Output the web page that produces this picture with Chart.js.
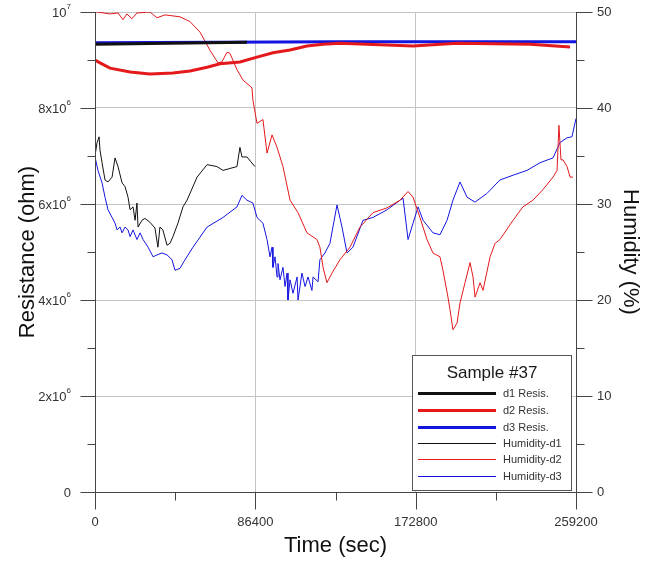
<!DOCTYPE html>
<html>
<head>
<meta charset="utf-8">
<script src="https://cdn.jsdelivr.net/npm/chart.js@4.4.1/dist/chart.umd.min.js"></script>
<style>
  html, body { margin: 0; padding: 0; background: #fff; }
  canvas { display: block; }
</style>
</head>
<body>
<canvas id="chart" width="652" height="561"></canvas>
<script>
// Time axis (seconds)
const timeMax = 259200;
const timeTicks = [0, 86400, 172800, 259200];
const resTicks = [0, 2e6, 4e6, 6e6, 8e6, 1e7];
const humTicks = [0, 10, 20, 30, 40, 50];

// Resistance (ohm), thick lines, left axis
const d1ResTime = [0, 40000, 81900];
const d1Res = [9.33e6, 9.35e6, 9.37e6];

const d2ResTime = [0, 2700, 8100, 18900, 29600, 42000, 51200, 60400, 67400, 78100, 87300, 95900, 105100, 114200, 122900, 132000, 171400, 195100, 234400, 256000];
const d2Res = [9.0e6, 8.94e6, 8.83e6, 8.75e6, 8.71e6, 8.73e6, 8.77e6, 8.85e6, 8.92e6, 8.96e6, 9.06e6, 9.15e6, 9.21e6, 9.29e6, 9.33e6, 9.35e6, 9.29e6, 9.35e6, 9.33e6, 9.27e6];

const d3ResTime = [0, 130000, 259200];
const d3Res = [9.36e6, 9.38e6, 9.38e6];

// Humidity (%), thin lines, right axis
const humD1Time = [0, 1100, 2200, 2700, 3800, 5400, 7000, 9200, 10800, 12400, 14600, 16200, 17800, 18900, 20500, 21600, 22600, 23200, 25300, 26900, 29600, 32300, 33900, 35000, 36600, 38800, 40400, 42000, 44700, 47400, 49600, 55000, 60400, 65700, 69000, 72700, 76500, 78100, 79200, 81900, 84000, 86200];
const humD1 = [35.0, 36.4, 37.0, 35.6, 34.3, 32.5, 32.3, 32.8, 34.8, 33.9, 32.2, 31.8, 30.7, 29.4, 29.7, 28.3, 30.1, 27.6, 28.3, 28.5, 28.1, 27.5, 25.5, 27.6, 27.3, 25.7, 25.9, 26.6, 28.0, 29.7, 30.4, 32.8, 34.1, 33.9, 33.5, 33.7, 33.9, 35.9, 34.9, 34.9, 34.4, 33.9];

const humD2Time = [0, 1100, 8100, 12400, 15100, 17200, 19900, 22600, 29600, 33400, 37700, 45800, 51200, 56600, 62000, 66300, 68400, 71100, 72700, 76500, 79800, 84600, 85100, 87300, 90500, 92700, 95400, 98100, 101300, 105100, 109400, 114200, 119600, 121200, 122900, 125000, 127700, 132000, 137400, 142800, 149800, 157400, 164400, 168700, 171400, 175100, 178900, 182100, 185900, 187500, 190200, 191300, 192900, 195100, 196700, 199400, 202100, 203700, 204800, 207500, 209100, 212900, 215600, 218200, 225300, 230600, 236000, 241400, 246800, 249000, 250000, 251100, 252200, 254400, 256000, 257600];
const humD2 = [50, 50, 49.8, 49.9, 49.2, 49.8, 49.3, 49.9, 50, 49.4, 49.7, 49.5, 49.0, 47.9, 46.0, 44.7, 44.8, 45.8, 45.7, 44.0, 42.9, 42.1, 40.8, 38.4, 38.8, 35.3, 37.2, 35.9, 33.9, 30.4, 29.1, 27.0, 26.3, 25.5, 23.4, 21.8, 22.8, 24.2, 25.5, 27.6, 29.1, 29.6, 30.4, 31.3, 30.7, 28.6, 26.3, 24.9, 24.5, 23.1, 20.3, 19.0, 16.9, 17.6, 19.7, 21.8, 23.9, 22.4, 20.3, 21.8, 21.0, 24.5, 25.9, 26.3, 28.3, 29.7, 30.4, 31.5, 32.8, 33.5, 38.2, 34.6, 34.6, 33.9, 32.8, 32.8];

const humD3Time = [0, 1600, 3800, 5400, 7000, 9200, 10800, 11900, 13500, 14600, 16200, 17800, 18900, 20500, 22600, 24300, 25900, 28600, 31300, 33400, 36100, 38800, 41500, 43100, 45800, 47900, 52800, 60400, 69000, 76500, 79200, 81900, 85100, 87300, 90500, 92700, 94300, 95400, 95900, 97000, 98100, 98600, 99700, 101300, 102400, 103500, 104000, 105100, 106700, 108900, 109400, 111500, 113200, 114800, 116900, 117500, 120200, 121200, 123900, 126600, 130400, 133100, 135800, 139000, 144400, 149800, 157400, 164400, 166000, 168700, 171400, 174100, 176800, 182100, 185900, 189700, 192900, 196700, 200500, 204800, 211200, 218200, 225300, 232800, 239800, 246800, 250600, 254400, 257000, 259200];
const humD3 = [34.9, 33.5, 32.2, 30.7, 29.4, 28.6, 28.0, 27.3, 27.6, 27.0, 27.6, 27.3, 26.6, 27.3, 26.3, 27.0, 26.3, 25.5, 24.5, 24.7, 24.9, 24.7, 24.2, 23.1, 23.3, 24.0, 25.5, 27.6, 28.6, 29.7, 30.9, 30.4, 30.1, 28.6, 28.0, 26.3, 24.5, 25.5, 23.4, 24.5, 22.4, 23.8, 22.1, 23.4, 21.4, 22.8, 20.0, 22.1, 20.7, 22.4, 20.0, 22.8, 21.4, 22.4, 21.0, 22.4, 21.9, 24.2, 24.9, 25.9, 29.9, 27.6, 24.9, 25.5, 28.3, 28.6, 29.4, 30.4, 30.6, 26.3, 28.0, 29.7, 28.3, 27.0, 26.8, 28.3, 30.4, 32.3, 30.7, 30.2, 31.1, 32.5, 33.0, 33.5, 34.3, 34.8, 36.4, 36.9, 37.0, 38.9];

const RED = '#e3191c';
const BLUE = '#1414e0';
const BLACK = '#111111';
const FONT = '"Liberation Sans", Arial, sans-serif';

function pts(t, v) {
  return t.map((x, i) => ({ x: x, y: v[i] }));
}

// split a resistance tick into base text and exponent
function sciParts(v) {
  if (v === 0) return ['0', ''];
  if (v === 1e7) return ['10', '7'];
  return [(v / 1e6) + 'x10', '6'];
}

// axis lines, tick marks and left labels with superscripts
const axesPlugin = {
  id: 'axesPlugin',
  afterDatasetsDraw(chart) {
    const ctx = chart.ctx;
    const a = chart.chartArea;
    const x = chart.scales.x, y = chart.scales.y, y1 = chart.scales.y1;
    ctx.save();
    ctx.strokeStyle = '#444';
    ctx.lineWidth = 1;
    ctx.beginPath();
    const L = Math.round(a.left) + 0.5, R = Math.round(a.right) + 0.5, B = Math.round(a.bottom) + 0.5;
    ctx.moveTo(L, a.top); ctx.lineTo(L, B);
    ctx.moveTo(R, a.top); ctx.lineTo(R, B);
    ctx.moveTo(L, B); ctx.lineTo(R, B);
    for (let v = 0; v <= 1e7; v += 1e6) {
      const py = Math.round(y.getPixelForValue(v)) + 0.5;
      const len = (v / 1e6) % 2 === 0 ? 15 : 8;
      ctx.moveTo(L - len, py); ctx.lineTo(L, py);
    }
    for (let v = 0; v <= 50; v += 5) {
      const py = Math.round(y1.getPixelForValue(v)) + 0.5;
      const len = v % 10 === 0 ? 16 : 8;
      ctx.moveTo(R, py); ctx.lineTo(R + len, py);
    }
    for (let t = 0; t <= timeMax; t += 43200) {
      const px = Math.round(x.getPixelForValue(t)) + 0.5;
      const len = t % 86400 === 0 ? 17 : 8;
      ctx.moveTo(px, B); ctx.lineTo(px, B + len);
    }
    ctx.stroke();

    // left tick labels
    ctx.fillStyle = '#333';
    ctx.textBaseline = 'middle';
    resTicks.forEach(v => {
      const py = y.getPixelForValue(v);
      const [base, exp] = sciParts(v);
      ctx.font = '8px ' + FONT;
      const ew = exp ? ctx.measureText(exp).width : 0;
      ctx.textAlign = 'left';
      if (exp) ctx.fillText(exp, 71 - ew, py - 5);
      ctx.font = '13px ' + FONT;
      ctx.textAlign = 'right';
      ctx.fillText(base, 71 - ew, py + 1);
    });
    ctx.restore();
  }
};

// boxed legend inside the plot
const boxLegend = {
  id: 'boxLegend',
  afterDraw(chart) {
    const ctx = chart.ctx;
    const bx = 412.5, by = 355.5, bw = 159, bh = 135;
    ctx.save();
    ctx.fillStyle = '#fff';
    ctx.fillRect(bx, by, bw, bh);
    ctx.strokeStyle = '#555';
    ctx.lineWidth = 1;
    ctx.strokeRect(bx, by, bw, bh);
    ctx.fillStyle = '#1a1a1a';
    ctx.font = '17px ' + FONT;
    ctx.textAlign = 'center';
    ctx.textBaseline = 'middle';
    ctx.fillText('Sample #37', bx + bw / 2, by + 18);
    const rows = [393, 410, 427, 443, 459, 476];
    ctx.font = '11px ' + FONT;
    ctx.textAlign = 'left';
    chart.data.datasets.forEach((ds, i) => {
      const ry = rows[i] + 0.5;
      ctx.strokeStyle = ds.borderColor;
      ctx.lineWidth = ds.borderWidth;
      ctx.beginPath();
      ctx.moveTo(418, ry); ctx.lineTo(496, ry);
      ctx.stroke();
      ctx.fillStyle = '#333';
      ctx.fillText(ds.label, 503, ry);
    });
    ctx.restore();
  }
};

const tickFont = { family: FONT, size: 13 };
const titleFont = { family: FONT, size: 22 };
const NONE = 'rgba(0,0,0,0)';

new Chart(document.getElementById('chart'), {
  type: 'line',
  data: {
    datasets: [
      { label: 'd1 Resis.', data: pts(d1ResTime, d1Res), borderColor: BLACK, borderWidth: 3, yAxisID: 'y' },
      { label: 'd2 Resis.', data: pts(d2ResTime, d2Res), borderColor: RED, borderWidth: 3, yAxisID: 'y' },
      { label: 'd3 Resis.', data: pts(d3ResTime, d3Res), borderColor: BLUE, borderWidth: 3, yAxisID: 'y' },
      { label: 'Humidity-d1', data: pts(humD1Time, humD1), borderColor: BLACK, borderWidth: 1, yAxisID: 'y1' },
      { label: 'Humidity-d2', data: pts(humD2Time, humD2), borderColor: RED, borderWidth: 1, yAxisID: 'y1' },
      { label: 'Humidity-d3', data: pts(humD3Time, humD3), borderColor: BLUE, borderWidth: 1, yAxisID: 'y1' }
    ]
  },
  options: {
    responsive: false,
    animation: false,
    devicePixelRatio: 1,
    layout: { padding: { top: 12, left: 0, right: 0, bottom: 0 } },
    elements: { point: { radius: 0 }, line: { tension: 0, fill: false } },
    plugins: { legend: { display: false }, tooltip: { enabled: false } },
    scales: {
      x: {
        type: 'linear',
        min: 0,
        max: timeMax,
        afterFit: s => { s.height = 69; },
        afterBuildTicks: s => { s.ticks = timeTicks.map(v => ({ value: v })); },
        ticks: { font: tickFont, color: '#333', padding: 23, maxRotation: 0, autoSkip: false, callback: v => String(v) },
        grid: {
          drawTicks: false,
          color: c => (c.tick && c.tick.value > 0 && c.tick.value < timeMax) ? '#c4c4c4' : NONE
        },
        border: { display: false },
        title: { display: true, text: 'Time (sec)', font: titleFont, color: '#111', padding: { top: 0, bottom: 2 } }
      },
      y: {
        position: 'left',
        min: 0,
        max: 1e7,
        afterFit: s => { s.width = 95; },
        afterBuildTicks: s => { s.ticks = resTicks.map(v => ({ value: v })); },
        ticks: { font: tickFont, color: NONE, padding: 0, callback: v => String(v / 1e6) },
        grid: {
          drawTicks: true,
          tickLength: 24,
          tickColor: NONE,
          color: c => (c.tick && c.tick.value > 0) ? '#c4c4c4' : NONE
        },
        border: { display: false },
        title: { display: true, text: 'Resistance (ohm)', font: titleFont, color: '#111', padding: { top: 15, bottom: 0 } }
      },
      y1: {
        position: 'right',
        min: 0,
        max: 50,
        afterFit: s => { s.width = 76; },
        afterBuildTicks: s => { s.ticks = humTicks.map(v => ({ value: v })); },
        ticks: { font: tickFont, color: '#333', padding: 0 },
        grid: { drawOnChartArea: false, drawTicks: true, tickLength: 21, tickColor: NONE, color: NONE },
        border: { display: false },
        title: { display: true, text: 'Humidity (%)', font: titleFont, color: '#111', padding: { top: 9, bottom: 0 } }
      }
    }
  },
  plugins: [axesPlugin, boxLegend]
});
</script>
</body>
</html>
